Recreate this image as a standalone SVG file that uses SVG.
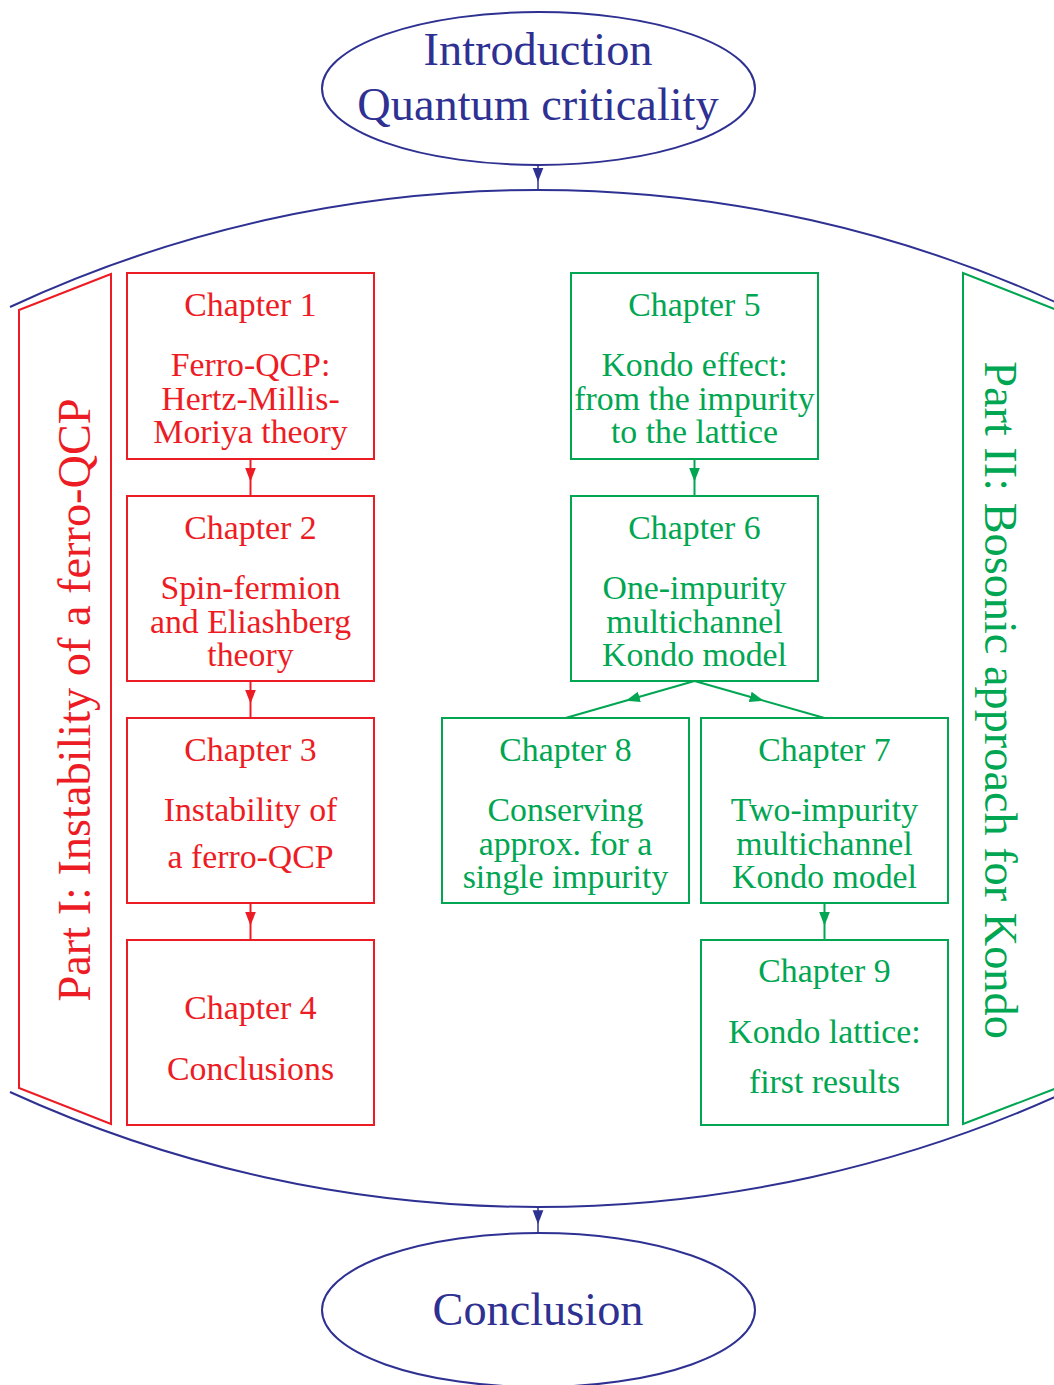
<svg xmlns="http://www.w3.org/2000/svg" width="1054" height="1385" viewBox="0 0 1054 1385">
<style>
text{font-family:"Liberation Serif","Times New Roman",serif;text-anchor:middle}
.r{fill:#ed1c24}.g{fill:#00a651}.b{fill:#2e3192}
.rs{fill:none;stroke:#ed1c24;stroke-width:2}
.gs{fill:none;stroke:#00a651;stroke-width:2}
.bs{fill:none;stroke:#2e3192;stroke-width:2}
.t{font-size:33.8px}
.big{font-size:46.3px}
</style>
<defs>
<marker id="ar" markerUnits="userSpaceOnUse" markerWidth="14" markerHeight="12" refX="9" refY="5" orient="auto" viewBox="0 0 13 10"><path d="M0,0L13,5L0,10z" fill="#ed1c24"/></marker>
<marker id="ag" markerUnits="userSpaceOnUse" markerWidth="14" markerHeight="12" refX="9" refY="5" orient="auto" viewBox="0 0 13 10"><path d="M0,0L13,5L0,10z" fill="#00a651"/></marker>
<marker id="ab" markerUnits="userSpaceOnUse" markerWidth="14" markerHeight="12" refX="9" refY="5" orient="auto" viewBox="0 0 13 10"><path d="M0,0L13,5L0,10z" fill="#2e3192"/></marker>
</defs>
<rect width="1054" height="1385" fill="#fff"/>

<g id="frame">
<path class="bs" d="M10,307 A1250,1250 0 0 1 1066,307"/>
<path class="bs" d="M10,1092 A1270,1270 0 0 0 1066,1092"/>
</g>

<g id="intro">
<ellipse class="bs" cx="538.5" cy="88.5" rx="216.5" ry="76.5"/>
<text class="b big" x="538" y="65">Introduction</text>
<text class="b big" x="538" y="120">Quantum criticality</text>
</g>

<g id="conclusion">
<ellipse class="bs" cx="538.5" cy="1310" rx="216.5" ry="77"/>
<text class="b big" x="538" y="1325">Conclusion</text>
</g>

<g id="part1">
<path class="rs" d="M111,274 L19,310 L19,1088 L111,1124 Z"/>
<text class="r big" transform="translate(90,700) rotate(-90)">Part I: Instability of a ferro-QCP</text>
</g>

<g id="part2">
<path class="gs" d="M963,1124 L963,273 L1057,310 L1057,1088 Z"/>
<text class="g big" transform="translate(985,700) rotate(90)">Part II: Bosonic approach for Kondo</text>
</g>

<g id="ch1">
<rect class="rs" x="127" y="273" width="247" height="186"/>
<text class="r t" x="250.5" y="316">Chapter 1</text>
<text class="r t" x="250.5" y="376">Ferro-QCP:</text>
<text class="r t" x="250.5" y="410">Hertz-Millis-</text>
<text class="r t" x="250.5" y="443">Moriya theory</text>
</g>
<g id="ch2">
<rect class="rs" x="127" y="496" width="247" height="185"/>
<text class="r t" x="250.5" y="539">Chapter 2</text>
<text class="r t" x="250.5" y="599">Spin-fermion</text>
<text class="r t" x="250.5" y="633">and Eliashberg</text>
<text class="r t" x="250.5" y="666">theory</text>
</g>
<g id="ch3">
<rect class="rs" x="127" y="718" width="247" height="185"/>
<text class="r t" x="250.5" y="761">Chapter 3</text>
<text class="r t" x="250.5" y="821">Instability of</text>
<text class="r t" x="250.5" y="868">a ferro-QCP</text>
</g>
<g id="ch4">
<rect class="rs" x="127" y="940" width="247" height="185"/>
<text class="r t" x="250.5" y="1019">Chapter 4</text>
<text class="r t" x="250.5" y="1080">Conclusions</text>
</g>

<g id="ch5">
<rect class="gs" x="571" y="273" width="247" height="186"/>
<text class="g t" x="694.5" y="316">Chapter 5</text>
<text class="g t" x="694.5" y="376">Kondo effect:</text>
<text class="g t" x="694.5" y="410">from the impurity</text>
<text class="g t" x="694.5" y="443">to the lattice</text>
</g>
<g id="ch6">
<rect class="gs" x="571" y="496" width="247" height="185"/>
<text class="g t" x="694.5" y="539">Chapter 6</text>
<text class="g t" x="694.5" y="599">One-impurity</text>
<text class="g t" x="694.5" y="633">multichannel</text>
<text class="g t" x="694.5" y="666">Kondo model</text>
</g>
<g id="ch8">
<rect class="gs" x="442" y="718" width="247" height="185"/>
<text class="g t" x="565.5" y="761">Chapter 8</text>
<text class="g t" x="565.5" y="821">Conserving</text>
<text class="g t" x="565.5" y="855">approx. for a</text>
<text class="g t" x="565.5" y="888">single impurity</text>
</g>
<g id="ch7">
<rect class="gs" x="701" y="718" width="247" height="185"/>
<text class="g t" x="824.5" y="761">Chapter 7</text>
<text class="g t" x="824.5" y="821">Two-impurity</text>
<text class="g t" x="824.5" y="855">multichannel</text>
<text class="g t" x="824.5" y="888">Kondo model</text>
</g>
<g id="ch9">
<rect class="gs" x="701" y="940" width="247" height="185"/>
<text class="g t" x="824.5" y="982">Chapter 9</text>
<text class="g t" x="824.5" y="1043">Kondo lattice:</text>
<text class="g t" x="824.5" y="1093">first results</text>
</g>

<g id="connectors">
<polyline class="bs" style="stroke-width:1.5" points="538,165 538,177.5 538,190" marker-mid="url(#ab)"/>
<polyline class="bs" style="stroke-width:1.5" points="538,1207 538,1220 538,1233" marker-mid="url(#ab)"/>
<polyline class="rs" points="250.5,459 250.5,477.5 250.5,496" marker-mid="url(#ar)"/>
<polyline class="rs" points="250.5,681 250.5,699.5 250.5,718" marker-mid="url(#ar)"/>
<polyline class="rs" points="250.5,903 250.5,921.5 250.5,940" marker-mid="url(#ar)"/>
<polyline class="gs" points="694.5,459 694.5,477.5 694.5,496" marker-mid="url(#ag)"/>
<polyline class="gs" points="824.5,903 824.5,921.5 824.5,940" marker-mid="url(#ag)"/>
<polyline class="gs" points="694.5,681 630,699.5 565.5,718" marker-mid="url(#ag)"/>
<polyline class="gs" points="694.5,681 759.5,699.5 824.5,718" marker-mid="url(#ag)"/>
</g>
</svg>
